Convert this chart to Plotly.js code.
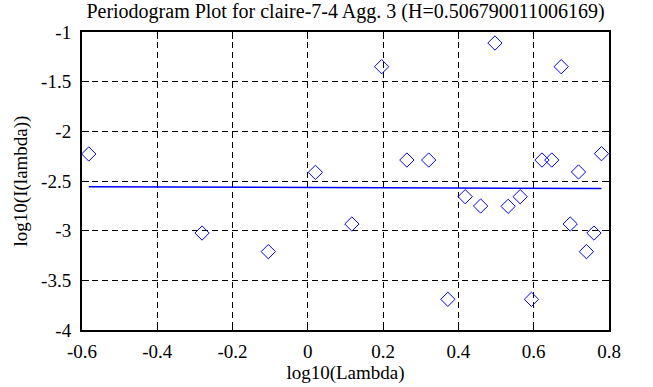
<!DOCTYPE html>
<html>
<head>
<meta charset="utf-8">
<script src="https://cdn.plot.ly/plotly-3.0.1.min.js"></script>
<style>body{margin:0;padding:0;background:#fff;font-family:'Liberation Serif';}
#c svg text{font-family:'Liberation Serif' !important;}</style>
</head>
<body>
<div id="c" style="width:653px;height:387px"></div>
<script>
// log10(Lambda) values of the periodogram points
const logLambda = [-0.582, -0.281, -0.105, 0.020, 0.117, 0.196, 0.263, 0.321, 0.372, 0.418, 0.459, 0.497,
                   0.532, 0.564, 0.594, 0.622, 0.648, 0.673, 0.697, 0.719, 0.740, 0.760, 0.780];
// log10(I(lambda)) values
const logI = [-2.228, -3.024, -3.211, -2.413, -2.933, -1.349, -2.289, -2.289, -3.691, -2.658, -2.752, -1.111,
              -2.755, -2.658, -3.691, -2.289, -2.289, -1.349, -2.933, -2.409, -3.211, -3.024, -2.225];
// least-squares fit line end points
const fitX = [-0.582, 0.780];
const fitY = [-2.558, -2.576];

const xTicks = [-0.6, -0.4, -0.2, 0, 0.2, 0.4, 0.6, 0.8];
const xTickText = ['-0.6', '-0.4', '-0.2', '0', '0.2', '0.4', '0.6', '0.8'];
const yTicks = [-4, -3.5, -3, -2.5, -2, -1.5, -1];
const yTickText = ['-4', '-3.5', '-3', '-2.5', '-2', '-1.5', '-1'];

const titleText = 'Periodogram Plot for claire-7-4 Agg. 3 (H=0.506790011006169)';
const serifFamily = 'Liberation Serif';

const traces = [
  {
    x: logLambda, y: logI, type: 'scatter', mode: 'markers',
    marker: {symbol: 'diamond-open', size: 11, color: '#0000ff', line: {width: 1, color: '#0000ff'}},
    hoverinfo: 'skip', showlegend: false
  },
  {
    x: fitX, y: fitY, type: 'scatter', mode: 'lines',
    line: {color: '#0000ff', width: 1.5}, hoverinfo: 'skip', showlegend: false
  }
];

function axisCommon() {
  return {
    showline: true, linecolor: '#000', linewidth: 2, mirror: 'ticks',
    ticks: 'inside', ticklen: 7, tickwidth: 1, tickcolor: '#000',
    showgrid: true, gridcolor: '#000', gridwidth: 1, griddash: '6px,4px',
    zeroline: false, tickfont: {family: serifFamily, size: 19}
  };
}

const layout = {
  width: 653, height: 387,
  margin: {l: 82, r: 44, t: 32, b: 57},
  paper_bgcolor: '#fff', plot_bgcolor: '#fff',
  font: {family: serifFamily, size: 19, color: '#000'},
  title: {text: titleText, font: {family: serifFamily, size: 20},
          x: 0.5, xref: 'paper', y: 0.99, yref: 'container', yanchor: 'top'},
  xaxis: Object.assign(axisCommon(), {
    range: [-0.6, 0.8], tickvals: xTicks, ticktext: xTickText, ticklabelstandoff: 3,
    title: {text: 'log10(Lambda)', font: {family: serifFamily, size: 19}, standoff: 2}
  }),
  yaxis: Object.assign(axisCommon(), {
    range: [-4, -1], tickvals: yTicks, ticktext: yTickText, ticklabelstandoff: 5,
    title: {text: 'log10(I(lambda))', font: {family: serifFamily, size: 19}, standoff: 8}
  })
};

Plotly.newPlot('c', traces, layout, {displayModeBar: false});
</script>
</body>
</html>
